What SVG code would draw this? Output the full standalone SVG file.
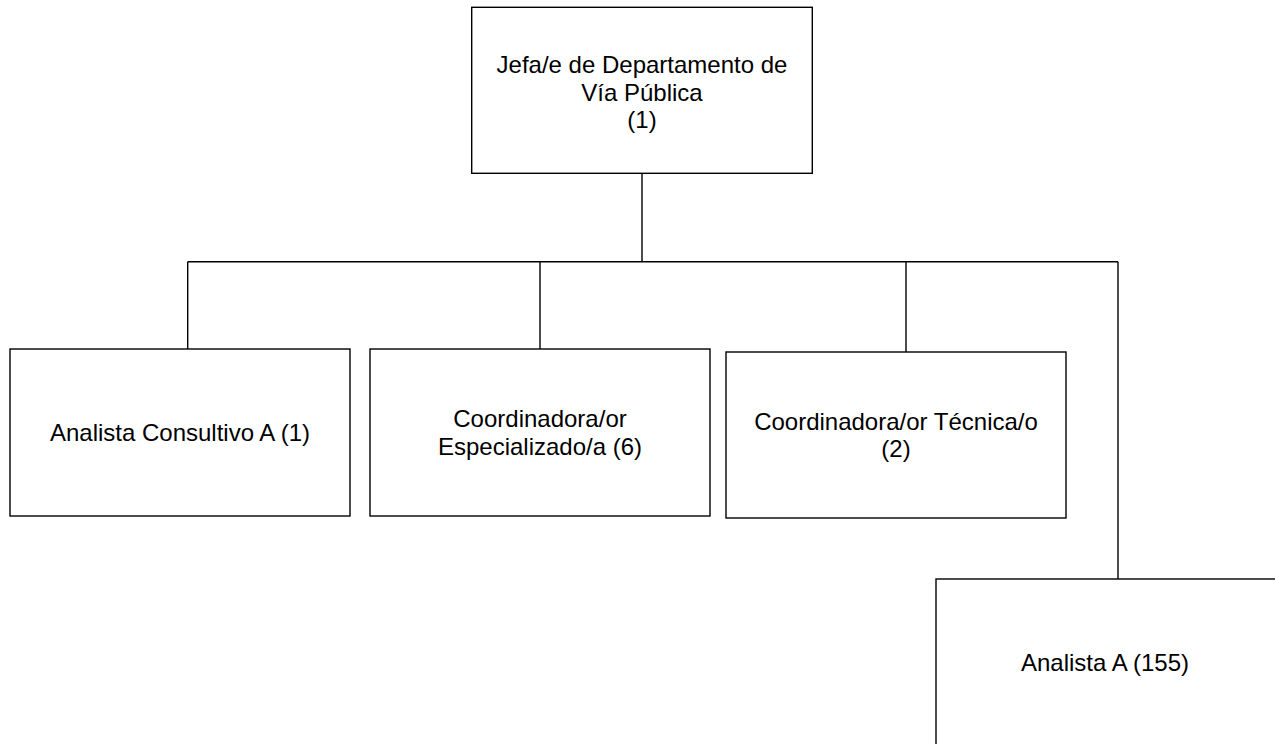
<svg xmlns="http://www.w3.org/2000/svg" width="1275" height="744" viewBox="0 0 1275 744">
<style>
.box{fill:#fff;stroke:#000;stroke-width:1.4}
.ln{fill:none;stroke:#000;stroke-width:1.4}
.t{font-family:"Liberation Sans",Arial,sans-serif;font-size:24px;fill:#000;text-anchor:middle}
</style>
<rect width="1275" height="744" fill="#fff"/>
<g id="connectors">
<line class="ln" x1="642" y1="173.3" x2="642" y2="261.7"/>
<line class="ln" x1="187.7" y1="261.7" x2="1118" y2="261.7"/>
<line class="ln" x1="187.7" y1="261.7" x2="187.7" y2="349"/>
<line class="ln" x1="540" y1="261.7" x2="540" y2="349"/>
<line class="ln" x1="906" y1="261.7" x2="906" y2="352"/>
<line class="ln" x1="1118" y1="261.7" x2="1118" y2="579"/>
</g>
<g id="n-jefa">
<rect class="box" x="471.7" y="7.3" width="340.6" height="166"/>
<text class="t" x="642" y="73">Jefa/e de Departamento de</text>
<text class="t" x="642" y="100.5">Vía Pública</text>
<text class="t" x="642" y="128">(1)</text>
</g>
<g id="n-analista-consultivo">
<rect class="box" x="10" y="349" width="340" height="167"/>
<text class="t" x="180" y="441">Analista Consultivo A (1)</text>
</g>
<g id="n-coord-esp">
<rect class="box" x="370" y="349" width="340" height="167"/>
<text class="t" x="540" y="427">Coordinadora/or</text>
<text class="t" x="540" y="455">Especializado/a (6)</text>
</g>
<g id="n-coord-tec">
<rect class="box" x="726" y="352" width="340" height="166"/>
<text class="t" x="896" y="429.7">Coordinadora/or Técnica/o</text>
<text class="t" x="896" y="457.3">(2)</text>
</g>
<g id="n-analista-a">
<rect class="box" x="936" y="579" width="340" height="166"/>
<text class="t" x="1105" y="670.5">Analista A (155)</text>
</g>
</svg>
